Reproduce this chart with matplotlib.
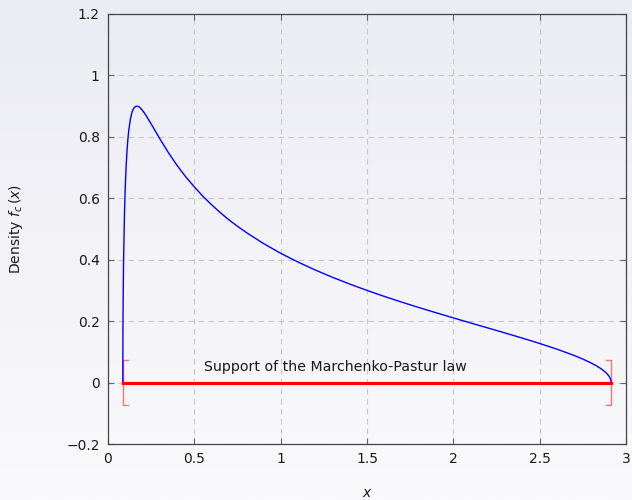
import numpy as np
import matplotlib
matplotlib.use("Agg")
import matplotlib.pyplot as plt

# Density values
x_vals = [0.0858, 0.0865, 0.087, 0.088, 0.09, 0.095, 0.10, 0.105, 0.11, 0.115, 0.12, 0.13,
          0.14, 0.15, 0.16, 0.17, 0.18, 0.19, 0.20, 0.22, 0.25, 0.30, 0.35, 0.40, 0.45,
          0.50, 0.55, 0.60, 0.65, 0.70, 0.75, 0.80, 0.90, 1.0, 1.1, 1.2, 1.3, 1.4, 1.5,
          1.6, 1.7, 1.8, 1.9, 2.0, 2.1, 2.2, 2.3, 2.4, 2.5, 2.6, 2.7, 2.75, 2.8, 2.825,
          2.85, 2.86, 2.88, 2.89, 2.90, 2.905, 2.91, 2.912, 2.914]
density = [0.0, 0.165, 0.214, 0.286, 0.386, 0.540, 0.637, 0.704, 0.754, 0.791, 0.820, 0.859,
           0.882, 0.894, 0.899, 0.900, 0.8975, 0.8926, 0.886, 0.870, 0.842, 0.794, 0.7486,
           0.707, 0.6701, 0.637, 0.6063, 0.579, 0.5535, 0.530, 0.5089, 0.489, 0.4529, 0.421,
           0.3925, 0.3666, 0.3428, 0.3207, 0.3001, 0.2806, 0.2621, 0.2444, 0.2273, 0.2106,
           0.1941, 0.1778, 0.1614, 0.1447, 0.1273, 0.1088, 0.0882, 0.0766, 0.0633, 0.0557,
           0.0471, 0.0432, 0.0342, 0.0287, 0.0220, 0.0177, 0.0119, 0.0086, 0.0]
support = [0.0858, 2.914]
support_label = "Support of the Marchenko-Pastur law"
x_ticks = [0, 0.5, 1, 1.5, 2, 2.5, 3]
x_ticklabels = ["0", "0.5", "1", "1.5", "2", "2.5", "3"]
y_ticks = [-0.2, 0, 0.2, 0.4, 0.6, 0.8, 1.0, 1.2]
y_ticklabels = ["\u22120.2", "0", "0.2", "0.4", "0.6", "0.8", "1", "1.2"]

plt.rcParams['font.family'] = ['DejaVu Sans']
plt.rcParams['mathtext.fontset'] = 'dejavusans'

fig = plt.figure(figsize=(6.32, 5.0), dpi=100)
# gradient background
bg = fig.add_axes([0, 0, 1, 1], zorder=-10)
grad = np.linspace(0, 1, 256).reshape(-1, 1)
top = np.array([235, 235, 243]) / 255.0
bot = np.array([250, 250, 252]) / 255.0
img = top[None, None, :] * (1 - grad[:, :, None]) + bot[None, None, :] * grad[:, :, None]
bg.imshow(img, aspect='auto', extent=[0, 1, 0, 1])
bg.set_axis_off()

ax = fig.add_axes([108/632, 56/500, 518/632, 430/500])
ax.patch.set_alpha(0)

ax.plot(x_vals, density, color='#0000ff', lw=1.0, zorder=3)
ax.plot(support, [0, 0], color='#ff0000', lw=2.2, zorder=4)

# brackets
bc = (1, 0.45, 0.45)
h = 0.072
ax.plot([support[0] + 0.03, support[0], support[0], support[0] + 0.03],
        [h, h, -h, -h], color=bc, lw=1.0, zorder=2)
ax.plot([support[1] - 0.03, support[1], support[1], support[1] - 0.03],
        [h, h, -h, -h], color=bc, lw=1.0, zorder=2)

ax.text(1.314, 0.052, support_label, ha='center', va='center', fontsize=10.2, color='#1a1a1a')

ax.set_xlim(0, 3)
ax.set_ylim(-0.2, 1.2)
ax.set_xticks(x_ticks)
ax.set_xticklabels(x_ticklabels)
ax.set_yticks(y_ticks)
ax.set_yticklabels(y_ticklabels)
ax.tick_params(direction='in', length=4, width=0.8, color='#666666',
               top=True, right=True, labelsize=10, labelcolor='#1a1a1a', pad=6)
ax.grid(True, color='#c8c8c8', linestyle=(0, (5, 4)), lw=0.8)
ax.set_axisbelow(True)
for s in ax.spines.values():
    s.set_color('#444444')
    s.set_linewidth(0.9)

ax.set_xlabel(r'$x$', fontsize=10, color='#1a1a1a', labelpad=14)
ax.set_ylabel(r'Density $f_c\,(x)$', fontsize=10, color='#1a1a1a', labelpad=30)

fig.savefig('out.png', dpi=100)
